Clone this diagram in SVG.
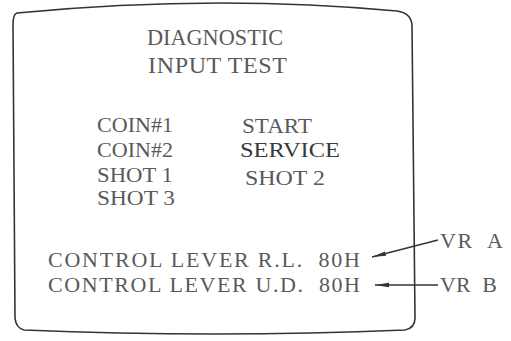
<svg xmlns="http://www.w3.org/2000/svg" width="511" height="341" viewBox="0 0 511 341">
<style>
.t{font-family:"Liberation Serif","Times New Roman",serif;fill:#5a5a5a;font-size:22px}
.h{font-size:24px}
.b{fill:#3a3a3a}
.frame{fill:none;stroke:#333;stroke-width:1.6}
.ln{fill:none;stroke:#333;stroke-width:1.3}
</style>
<defs>
<marker id="ah" viewBox="0 0 14 6" refX="14" refY="3" markerWidth="14" markerHeight="6" markerUnits="userSpaceOnUse" orient="auto">
<path d="M0,0.8 L14,3 L0,5.2 Z" fill="#333"/>
</marker>
</defs>
<rect width="511" height="341" fill="#fff"/>
<g id="screen">
<path class="frame" d="M17,13 Q213,-6 397,11 Q411,13 412,25 L415,318 Q415,328 405,330 Q215,338 24,330 Q16,328 15,318 L13,25 Q13,14 17,13 Z"/>
</g>
<g id="title">
<text class="t h" x="147" y="45" textLength="136" lengthAdjust="spacingAndGlyphs">DIAGNOSTIC</text>
<text class="t h" x="148" y="73" textLength="139" lengthAdjust="spacing">INPUT TEST</text>
</g>
<g id="inputs-left">
<text class="t" x="97" y="132" textLength="76" lengthAdjust="spacingAndGlyphs">COIN#1</text>
<text class="t" x="97" y="157" textLength="76" lengthAdjust="spacingAndGlyphs">COIN#2</text>
<text class="t" x="97" y="182" textLength="76" lengthAdjust="spacingAndGlyphs">SHOT 1</text>
<text class="t" x="97" y="205" textLength="78" lengthAdjust="spacingAndGlyphs">SHOT 3</text>
</g>
<g id="inputs-right">
<text class="t" x="242" y="133" textLength="70" lengthAdjust="spacingAndGlyphs">START</text>
<text class="t b" x="240" y="157" textLength="100" lengthAdjust="spacingAndGlyphs">SERVICE</text>
<text class="t" x="245" y="185" textLength="80" lengthAdjust="spacingAndGlyphs">SHOT 2</text>
</g>
<g id="lever-rl">
<text class="t" x="48" y="267" textLength="312" lengthAdjust="spacing" xml:space="preserve">CONTROL LEVER R.L.  80H</text>
</g>
<g id="lever-ud">
<text class="t" x="48" y="292" textLength="312" lengthAdjust="spacing" xml:space="preserve">CONTROL LEVER U.D.  80H</text>
</g>
<g id="vr-a">
<text class="t" x="440" y="248" textLength="63" lengthAdjust="spacing" xml:space="preserve">VR  A</text>
</g>
<g id="vr-b">
<text class="t" x="440" y="292" textLength="57" lengthAdjust="spacing" xml:space="preserve">VR  B</text>
</g>
<g id="connectors">
<line class="ln" x1="438" y1="240" x2="372" y2="257" marker-end="url(#ah)"/>
<line class="ln" x1="438" y1="285" x2="375" y2="285" marker-end="url(#ah)"/>
</g>
</svg>
